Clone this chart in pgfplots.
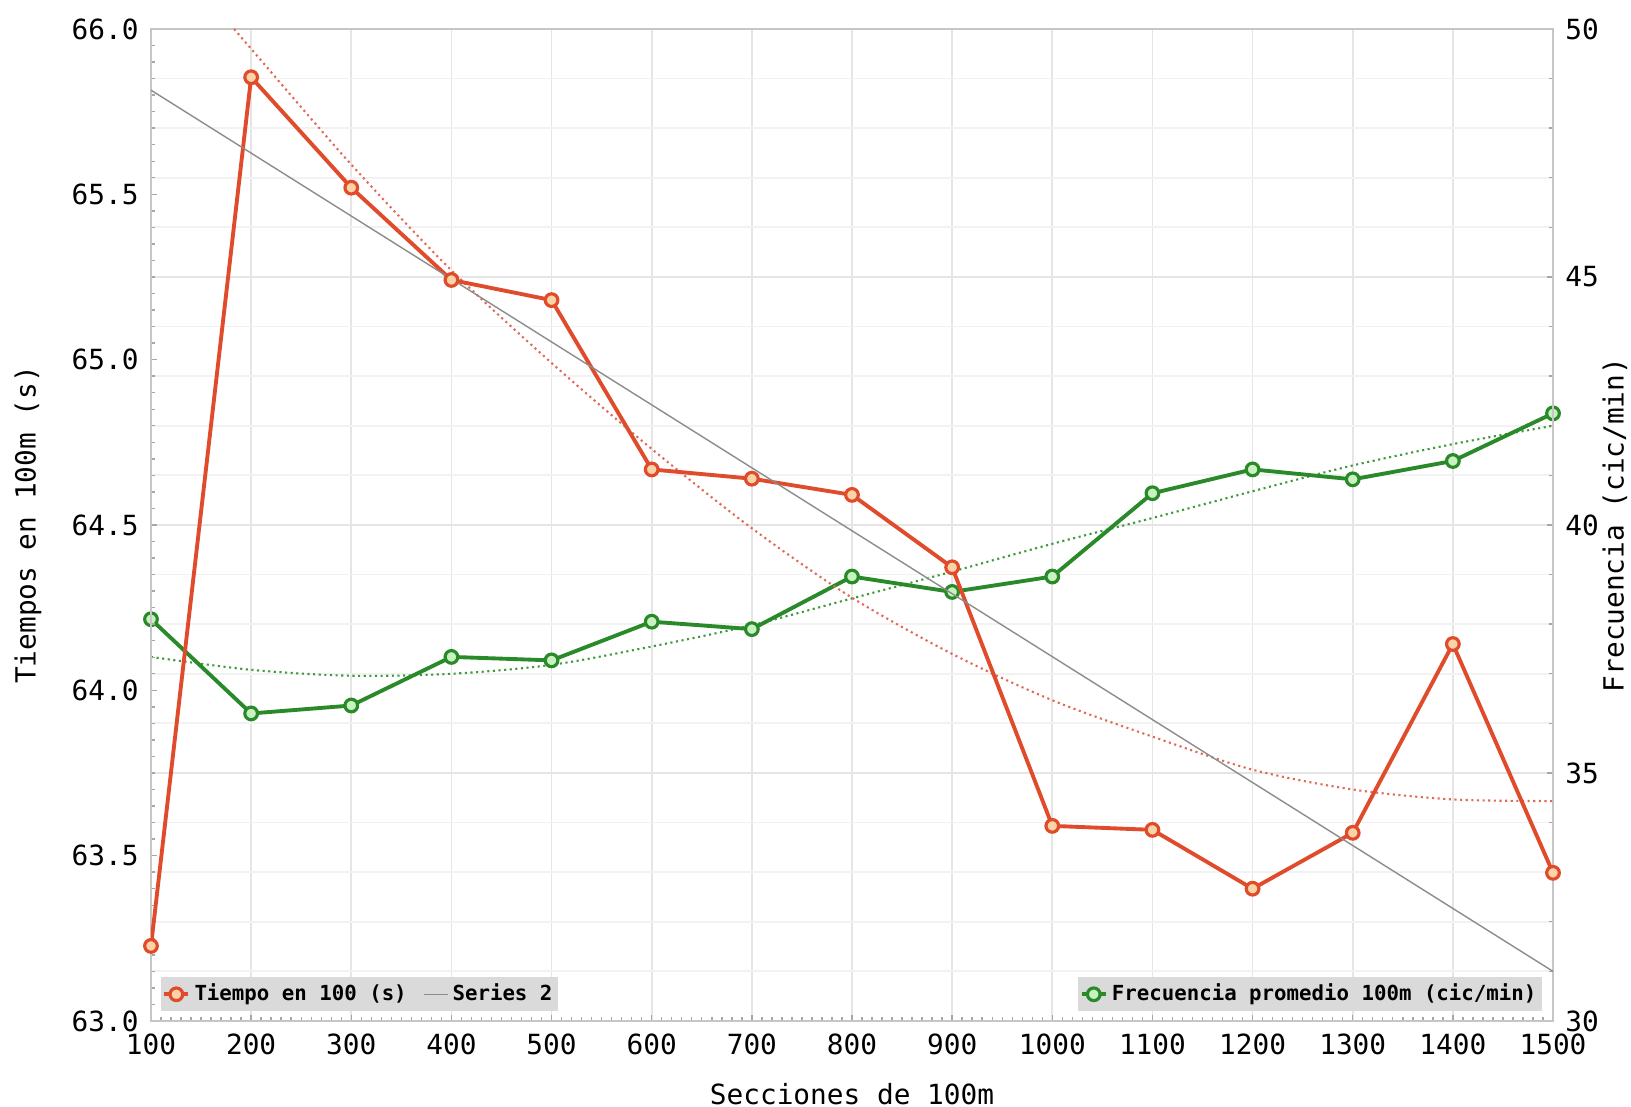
\documentclass[border=0pt]{standalone}
\usepackage{fontspec}
\setmainfont{DejaVu Sans Mono}
\usepackage{pgfplots}
\pgfplotsset{compat=1.18}
\definecolor{redline}{HTML}{E04B2B}
\definecolor{redfill}{HTML}{FAD3A6}
\definecolor{reddot}{HTML}{E06A5A}
\definecolor{greenline}{HTML}{2A8A2A}
\definecolor{greenfill}{HTML}{C8F2C0}
\definecolor{greendot}{HTML}{3F9A3F}
\definecolor{legfill}{HTML}{DADADA}
\definecolor{trendgray}{HTML}{8C8C8C}
\begin{document}
\begin{tikzpicture}
\pgfplotsset{
  every axis/.append style={
    scale only axis, width=14.02cm, height=9.92cm, xmin=100, xmax=1500,
    font=\fontsize{7.9}{9}\selectfont,
    /pgf/number format/assume math mode=true,
    /pgf/number format/1000 sep={},
    tick style={gray!70, line width=0.4pt},
    major tick length=0.06cm, minor tick length=0.04cm,
    axis line style={gray!45},
    legend cell align=left,
    legend image code/.code={\draw[mark repeat=2,mark phase=2,#1] plot coordinates {(0cm,0cm) (0.12cm,0cm) (0.24cm,0cm)};},
  }
}
% ---------- right axis (frequency) ----------
\begin{axis}[
  ymin=30, ymax=50, ytick={30,35,...,50}, minor ytick={30,31,...,50},
  ytick pos=right, yticklabel pos=right,
  xtick={100,200,...,1500}, xticklabels={}, xtick pos=bottom,
  xmajorgrids, ymajorgrids, yminorgrids,
  major grid style={gray!20, line width=0.5pt},
  minor grid style={gray!10, line width=0.5pt},
  ylabel={Frecuencia (cic/min)},
  ylabel style={at={(axis description cs:1.0442,0.5)}, anchor=center},
  legend style={at={(axis description cs:0.9929,0.009)}, anchor=south east,
    fill=legfill, draw=none, inner sep=0.5pt,
    nodes={inner sep=1.2pt},
    font=\bfseries\fontsize{5.9}{7}\selectfont},
]
\addplot[greendot, densely dotted, line width=0.6pt, smooth, forget plot] coordinates {
(100,37.34) (200,37.08) (300,36.96) (400,37.00) (500,37.18) (600,37.55) (700,37.98)
(800,38.52) (900,39.06) (1000,39.62) (1100,40.14) (1200,40.68) (1300,41.20) (1400,41.63) (1500,42.00)};
\addplot[greenline, line width=1.1pt, mark=*, mark size=1.8pt,
  mark options={fill=greenfill, draw=greenline, line width=0.9pt}] coordinates {
(100,38.10) (200,36.20) (300,36.36) (400,37.34) (500,37.27) (600,38.05) (700,37.90)
(800,38.96) (900,38.65) (1000,38.96) (1100,40.64) (1200,41.12) (1300,40.92) (1400,41.29) (1500,42.25)};
\addlegendentry{Frecuencia promedio 100m (cic/min)}
\end{axis}
% ---------- left axis (time) ----------
\begin{axis}[
  ymin=63, ymax=66, ytick={63,63.5,...,66}, minor tick num=9,
  ytick pos=left,
  yticklabel style={/pgf/number format/.cd, fixed, fixed zerofill, precision=1},
  xtick={100,200,...,1500}, xtick pos=bottom,
  xlabel={Secciones de 100m},
  xlabel style={at={(axis description cs:0.5,-0.0736)}, anchor=center},
  ylabel={Tiempos en 100m (s)},
  ylabel style={at={(axis description cs:-0.0877,0.5)}, anchor=center},
  legend columns=-1,
  legend style={at={(axis description cs:0.0064,0.009)}, anchor=south west,
    fill=legfill, draw=none, inner sep=0.5pt,
    nodes={inner sep=1.2pt},
    font=\bfseries\fontsize{5.9}{7}\selectfont,
    /tikz/every even column/.append style={column sep=0.12cm}},
]
\addplot[reddot, densely dotted, line width=0.6pt, smooth, forget plot] coordinates {
(183,66.0) (200,65.94) (300,65.59) (400,65.27) (500,64.99) (600,64.73) (700,64.49) (800,64.28)
(900,64.11) (1000,63.97) (1100,63.86) (1200,63.76) (1300,63.70) (1400,63.67) (1500,63.665)};
\addplot[redline, line width=1.1pt, mark=*, mark size=1.8pt,
  mark options={fill=redfill, draw=redline, line width=0.9pt}] coordinates {
(100,63.227) (200,65.854) (300,65.520) (400,65.241) (500,65.180) (600,64.668) (700,64.640)
(800,64.591) (900,64.372) (1000,63.590) (1100,63.578) (1200,63.400) (1300,63.569) (1400,64.140) (1500,63.448)};
\addlegendentry{Tiempo en 100 (s)}
\addplot[trendgray, line width=0.4pt] coordinates {(100,65.815) (1500,63.15)};
\addlegendentry{Series 2}
\coordinate (sw) at (rel axis cs:0,0);
\coordinate (ne) at (rel axis cs:1,1);
\end{axis}
\pgfresetboundingbox
\path[use as bounding box] ([shift={(-1.51cm,-0.86cm)}]sw) rectangle ([shift={(0.78cm,0.29cm)}]ne);
\end{tikzpicture}
\end{document}
